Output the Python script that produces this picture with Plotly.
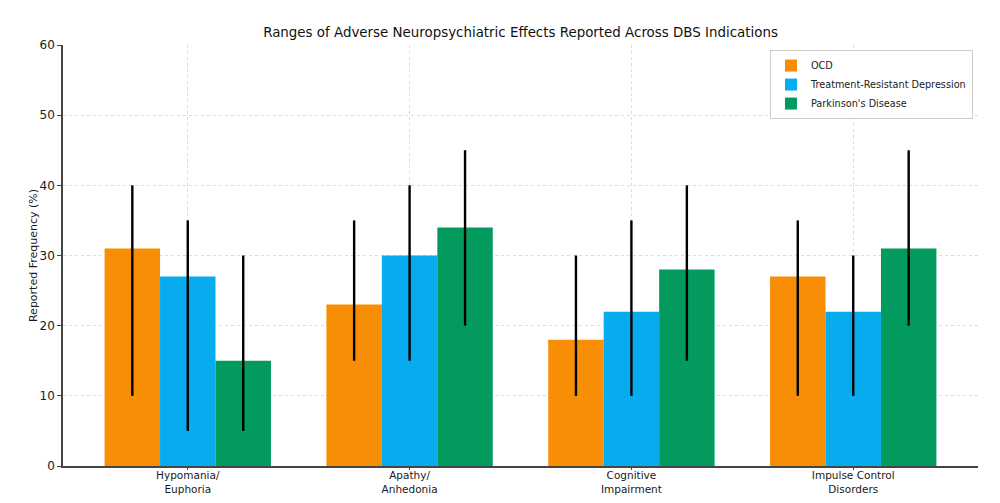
import plotly.graph_objects as go

categories = ["Hypomania/<br>Euphoria", "Apathy/<br>Anhedonia", "Cognitive<br>Impairment", "Impulse Control<br>Disorders"]

ocd_mid = [31, 23, 18, 27]
ocd_low = [10, 15, 10, 10]
ocd_high = [40, 35, 30, 35]

trd_mid = [27, 30, 22, 22]
trd_low = [5, 15, 10, 10]
trd_high = [35, 40, 35, 30]

pd_mid = [15, 34, 28, 31]
pd_low = [5, 20, 15, 20]
pd_high = [30, 45, 40, 45]

series = [
    ("OCD", ocd_mid, ocd_low, ocd_high, "#F78E05"),
    ("Treatment-Resistant Depression", trd_mid, trd_low, trd_high, "#06ACEE"),
    ("Parkinson's Disease", pd_mid, pd_low, pd_high, "#039A5E"),
]

fig = go.Figure()
for name, mid, low, high, col in series:
    fig.add_trace(go.Bar(
        name=name, x=categories, y=mid,
        marker=dict(color=col, line=dict(width=0)),
        error_y=dict(type="data", symmetric=False,
                     array=[h - m for h, m in zip(high, mid)],
                     arrayminus=[m - l for m, l in zip(mid, low)],
                     color="black", thickness=2.4, width=0),
    ))

# page body adds 8px, so margins are shifted by that much
font = "DejaVu Sans"
fig.update_layout(
    width=1000, height=503,
    paper_bgcolor="white", plot_bgcolor="white",
    margin=dict(l=55, r=30, t=37, b=45),
    barmode="group", bargap=0.25, bargroupgap=0,
    font=dict(family=font, size=11, color="#222"),
    title=dict(text="Ranges of Adverse Neuropsychiatric Effects Reported Across DBS Indications",
               x=0.5125, xanchor="center", y=0.952, yanchor="middle",
               font=dict(family=font, size=13.4, color="#111")),
    legend=dict(x=0.9945, xanchor="right", y=0.988, yanchor="top",
                bgcolor="white", bordercolor="#cccccc", borderwidth=1,
                font=dict(size=9.7, color="#222"), tracegroupgap=0,
                itemwidth=30),
    xaxis=dict(range=[-0.5625, 3.5625], showgrid=True, gridcolor="#dcdcdc",
               griddash="dot", gridwidth=1, showline=True, linecolor="#444",
               linewidth=1.5, ticks="outside", ticklen=2, tickcolor="#444",
               tickfont=dict(size=10.5, color="#1a1a1a"), zeroline=False,
               automargin=False, ticklabelstandoff=-3),
    yaxis=dict(range=[0, 60], dtick=10, showgrid=True, gridcolor="#dcdcdc",
               griddash="dot", gridwidth=1, showline=True, linecolor="#444",
               linewidth=1.5, ticks="outside", ticklen=4, tickcolor="#444",
               tickfont=dict(size=12, color="#1a1a1a"), zeroline=False,
               automargin=False,
               title=dict(text="Reported Frequency (%)", font=dict(size=11, color="#1a1a1a"),
                          standoff=0)),
)

fig.write_html("out.html")
